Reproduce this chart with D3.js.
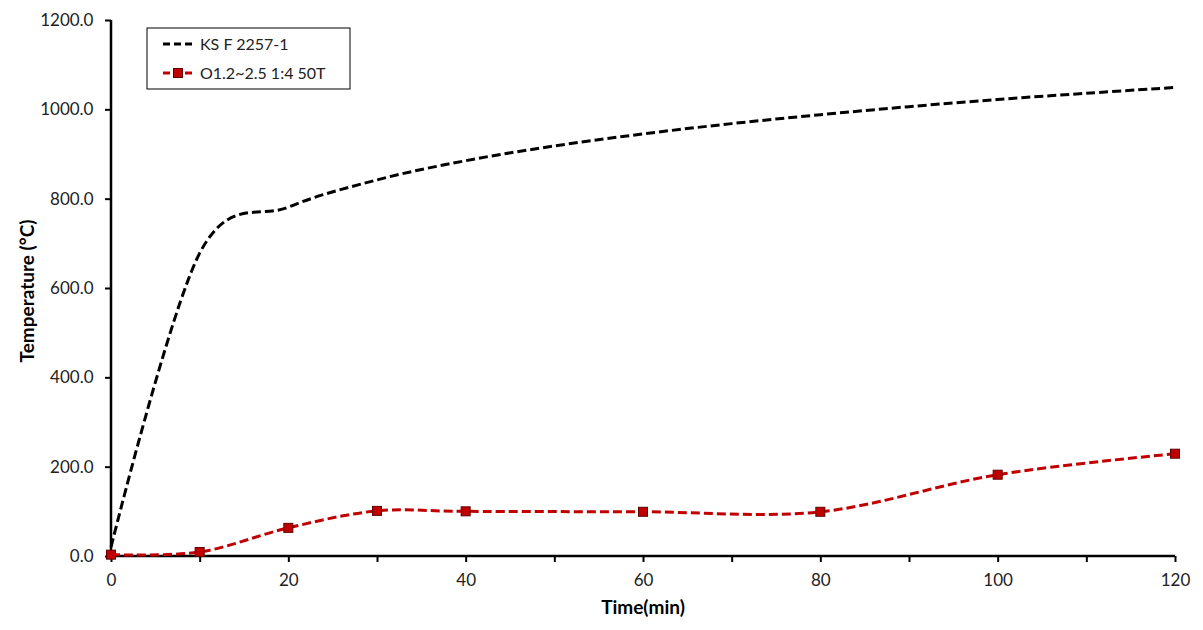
<!DOCTYPE html>
<html><head><meta charset="utf-8">
<script src="https://cdn.jsdelivr.net/npm/d3@7"></script>
<style>body{margin:0;background:#fff}svg{display:block}text{font-family:Lato,"Open Sans",sans-serif}</style>
</head><body>
<svg id="c" width="1203" height="630"></svg>
<script>
const ksTimes = [0,10,20,30,40,50,60,70,80,90,100,110,120];
const ksTemps = [20,678,781,842,885,918,945,968,988,1006,1022,1036,1049];
const sampleTimes = [0,10,20,30,40,60,80,100,120];
const sampleTemps = [3,9,63,101,100,99,99,182,229];
const seriesNames = ["KS F 2257-1","O1.2~2.5 1:4 50T"];
const xTicks = d3.range(0,121,10);
const xLabels = d3.range(0,121,20);
const yTicks = d3.range(0,1201,200);

const svg = d3.select("#c");
const L=111,R=1175,T=20,B=556;
const x = d3.scaleLinear().domain([0,120]).range([L,R]);
const y = d3.scaleLinear().domain([0,1200]).range([B,T]);

// axes
const xa = svg.append("g").attr("transform",`translate(0,${B})`)
  .call(d3.axisBottom(x).tickValues(xTicks).tickSize(6).tickFormat(d=>xLabels.includes(d)?d:""));
xa.select(".domain").attr("stroke","#000").attr("stroke-width",2.5).attr("d",`M${L},0H${R}`);
xa.selectAll(".tick line").attr("stroke","#000").attr("stroke-width",2);
xa.selectAll(".tick text").attr("font-size",17).attr("dy","1.25em").attr("fill","#222");

const ya = svg.append("g").attr("transform",`translate(${L},0)`)
  .call(d3.axisLeft(y).tickValues(yTicks).tickSize(6).tickFormat(d3.format(".1f")));
ya.select(".domain").attr("stroke","#000").attr("stroke-width",2.5).attr("d",`M0,${T}V${B}`);
ya.selectAll(".tick line").attr("stroke","#000").attr("stroke-width",2);
ya.selectAll(".tick text").attr("font-size",17).attr("dx","-0.5em").attr("fill","#222");

// titles
svg.append("text").attr("x",643).attr("y",614).attr("text-anchor","middle")
  .attr("font-size",19).attr("font-weight","bold").text("Time(min)");
svg.append("text").attr("transform","translate(34,291) rotate(-90)").attr("text-anchor","middle")
  .attr("font-size",19).attr("font-weight","bold").text("Temperature (°C)");

const line = d3.line().x(d=>x(d[0])).y(d=>y(d[1])).curve(d3.curveCardinal.tension(0));
const ks = ksTimes.map((t,i)=>[t,ksTemps[i]]);
const sm = sampleTimes.map((t,i)=>[t,sampleTemps[i]]);

svg.append("path").attr("d",line(ks)).attr("fill","none").attr("stroke","#000")
  .attr("stroke-width",3).attr("stroke-dasharray","9,4");
svg.append("path").attr("d",line(sm)).attr("fill","none").attr("stroke","#C00000")
  .attr("stroke-width",3).attr("stroke-dasharray","9,4");
svg.selectAll("rect.m").data(sm).join("rect").attr("class","m")
  .attr("x",d=>x(d[0])-4.5).attr("y",d=>y(d[1])-4.5).attr("width",9).attr("height",9)
  .attr("fill","#C00000").attr("stroke","#600000").attr("stroke-width",1);

// legend
const lg = svg.append("g");
lg.append("rect").attr("x",147).attr("y",28).attr("width",203).attr("height",61)
  .attr("fill","#fff").attr("stroke","#000").attr("stroke-width",1);
lg.append("line").attr("x1",163).attr("x2",193).attr("y1",44).attr("y2",44)
  .attr("stroke","#000").attr("stroke-width",3).attr("stroke-dasharray","7,4");
lg.append("line").attr("x1",163).attr("x2",193).attr("y1",73).attr("y2",73)
  .attr("stroke","#C00000").attr("stroke-width",3).attr("stroke-dasharray","7,4");
lg.append("rect").attr("x",173.5).attr("y",68.5).attr("width",9).attr("height",9)
  .attr("fill","#C00000").attr("stroke","#600000");
lg.selectAll("text.l").data(seriesNames).join("text").attr("class","l")
  .attr("x",200).attr("y",(d,i)=>44+i*29).attr("dy","0.35em").attr("font-size",16).attr("fill","#222").text(d=>d);
</script>
</body></html>
